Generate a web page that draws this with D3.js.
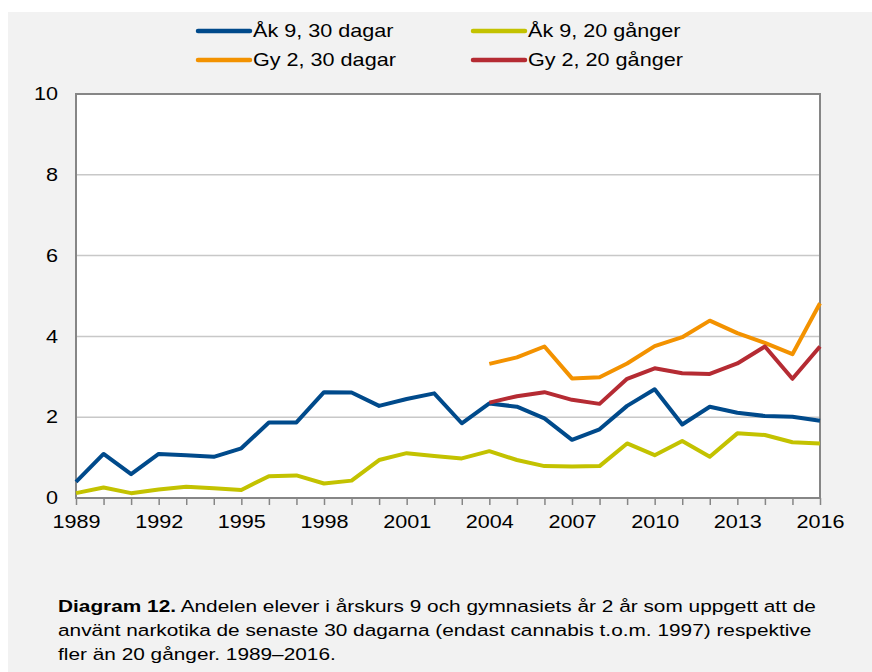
<!DOCTYPE html>
<html>
<head>
<meta charset="utf-8">
<script src="https://cdn.jsdelivr.net/npm/d3@7"></script>
<style>
  body { margin: 0; background: #fff; }
  svg { display: block; font-family: "Liberation Sans", Arial, sans-serif; }
</style>
</head>
<body>
<div id="graph"></div>
<script>
// data
const years = d3.range(1989, 2017);
const ak9Dagar = [0.40, 1.09, 0.59, 1.09, 1.06, 1.02, 1.23, 1.87, 1.87, 2.62,
  2.61, 2.28, 2.45, 2.59, 1.85, 2.34, 2.26, 1.97, 1.44, 1.70,
  2.28, 2.69, 1.82, 2.26, 2.11, 2.03, 2.01, 1.91];
const ak9Ganger = [0.12, 0.26, 0.12, 0.21, 0.28, 0.24, 0.20, 0.54, 0.56, 0.36,
  0.43, 0.94, 1.11, 1.04, 0.98, 1.16, 0.94, 0.79, 0.78, 0.79,
  1.35, 1.06, 1.41, 1.02, 1.60, 1.56, 1.38, 1.35];
const gyYears = d3.range(2004, 2017);
const gy2Dagar = [3.32, 3.48, 3.75, 2.96, 2.99, 3.33, 3.76, 3.98, 4.39, 4.08, 3.84, 3.56, 4.82];
const gy2Ganger = [2.36, 2.52, 2.62, 2.43, 2.33, 2.95, 3.21, 3.09, 3.07, 3.33, 3.75, 2.95, 3.75];
const yTicks = [0, 2, 4, 6, 8, 10];
const xTicks = [1989, 1992, 1995, 1998, 2001, 2004, 2007, 2010, 2013, 2016];

const series = [
  {name: "Åk 9, 30 dagar", x: years, y: ak9Dagar, color: "#004a8b"},
  {name: "Åk 9, 20 gånger", x: years, y: ak9Ganger, color: "#c3c200"},
  {name: "Gy 2, 30 dagar", x: gyYears, y: gy2Dagar, color: "#f39200"},
  {name: "Gy 2, 20 gånger", x: gyYears, y: gy2Ganger, color: "#b52b33"}
];

// text in the original is a little wider than Arial
const stretch = 1.2;

const W = 872, H = 672;
const margin = {top: 94, right: 52, bottom: 174, left: 76},
    width = W - margin.left - margin.right,
    height = H - margin.top - margin.bottom;

const root = d3.select("#graph")
  .append("svg")
    .attr("width", W)
    .attr("height", H);

// grey panel
root.append("rect")
  .attr("x", 8).attr("y", 12)
  .attr("width", W - 8).attr("height", H - 12)
  .attr("fill", "#f2f2f2");

const svg = root.append("g")
  .attr("transform", `translate(${margin.left},${margin.top})`);

const x = d3.scaleLinear().domain([1989, 2016]).range([0, width]);
const y = d3.scaleLinear().domain([0, 10]).range([height, 0]);

svg.append("rect")
  .attr("width", width).attr("height", height)
  .attr("fill", "#fff");

// gridlines
svg.append("g")
  .selectAll("line")
  .data(yTicks.filter(d => d > 0 && d < 10))
  .join("line")
    .attr("x1", 0).attr("x2", width)
    .attr("y1", d => y(d)).attr("y2", d => y(d))
    .attr("stroke", "#c8c8c8")
    .attr("stroke-width", 1.5);

// x axis ticks every year
const xAxis = svg.append("g")
  .attr("transform", `translate(0,${height})`)
  .call(d3.axisBottom(x).tickValues(years).tickSize(7).tickFormat(d => xTicks.includes(d) ? d : ""));
xAxis.select(".domain").remove();
xAxis.selectAll("line").attr("stroke", "#868686").attr("stroke-width", 1.5);
xAxis.selectAll("text")
  .attr("y", 17)
  .attr("fill", "#000")
  .attr("transform", `scale(${stretch},1)`)
  .style("font-size", "18px")
  .style("font-family", "Liberation Sans, Arial, sans-serif");

// y axis labels
const yAxis = svg.append("g")
  .call(d3.axisLeft(y).tickValues(yTicks).tickSize(0).tickPadding(15));
yAxis.select(".domain").remove();
yAxis.selectAll("text")
  .attr("fill", "#000")
  .attr("transform", `scale(${stretch},1)`)
  .style("font-size", "18px")
  .style("font-family", "Liberation Sans, Arial, sans-serif");

// frame
svg.append("rect")
  .attr("width", width).attr("height", height)
  .attr("fill", "none")
  .attr("stroke", "#868686")
  .attr("stroke-width", 2);

const line = d3.line()
  .x(d => x(d[0]))
  .y(d => y(d[1]));

svg.selectAll(".series")
  .data(series)
  .join("path")
    .attr("class", "series")
    .attr("d", s => line(s.x.map((yr, i) => [yr, s.y[i]])))
    .attr("fill", "none")
    .attr("stroke", s => s.color)
    .attr("stroke-width", 4)
    .attr("stroke-linejoin", "round");

// legend
const legPos = [[198, 31], [473, 31], [198, 60], [473, 60]];
const leg = root.append("g")
  .selectAll("g")
  .data(series)
  .join("g")
    .attr("transform", (d, i) => `translate(${legPos[i][0]},${legPos[i][1]})`);
leg.append("line")
  .attr("x1", 0).attr("x2", 52)
  .attr("stroke", d => d.color)
  .attr("stroke-width", 4.5)
  .attr("stroke-linecap", "round");
leg.append("text")
  .attr("transform", `translate(55,0) scale(${stretch},1)`)
  .attr("dy", "0.35em")
  .style("font-size", "18px")
  .text(d => d.name);

// caption
const capScale = 1.225;
const capLines = [
  "Andelen elever i årskurs 9 och gymnasiets år 2 år som uppgett att de",
  "använt narkotika de senaste 30 dagarna (endast cannabis t.o.m. 1997) respektive",
  "fler än 20 gånger. 1989–2016."
];
capLines.forEach((t, i) => {
  const txt = root.append("text")
    .attr("transform", `translate(58,${612 + i * 24}) scale(${capScale},1)`)
    .style("font-size", "17px")
    .attr("fill", "#000");
  if (i === 0) {
    txt.append("tspan").style("font-weight", "bold").text("Diagram 12.");
    txt.append("tspan").text(" " + t);
  } else {
    txt.text(t);
  }
});
</script>
</body>
</html>
